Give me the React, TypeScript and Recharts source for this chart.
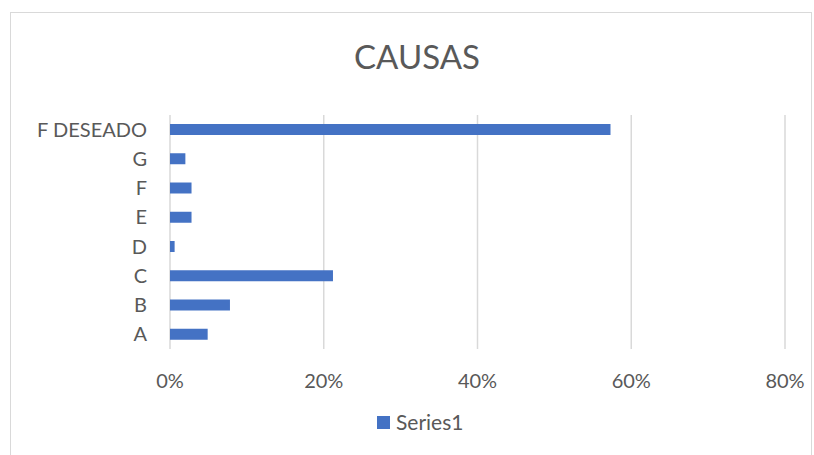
import { Bar, BarChart, CartesianGrid, XAxis, YAxis } from "recharts";

// Share of each cause (fractions of 1).
const causes = ["A", "B", "C", "D", "E", "F", "G", "F DESEADO"];
const series1 = [0.049, 0.078, 0.212, 0.006, 0.028, 0.028, 0.02, 0.573];
const xTicks = [0, 0.2, 0.4, 0.6, 0.8];

const data = causes.map((name, i) => ({ name, Series1: series1[i] }));

const TEXT = "#595959";
const BAR = "#4472C4";
const FONT = "Lato, 'Open Sans', sans-serif";

export default function App() {
  return (
    <div
      style={{
        position: "absolute",
        left: 0,
        top: 0,
        width: 814,
        height: 455,
        overflow: "hidden",
        background: "#fff",
        fontFamily: FONT,
      }}
    >
      {/* chart-area frame, runs off the bottom edge of the picture */}
      <div
        style={{
          position: "absolute",
          left: 10,
          top: 12,
          width: 800,
          height: 470,
          border: "1px solid #d9d9d9",
        }}
      />
      <div
        style={{
          position: "absolute",
          left: 0,
          top: 36,
          width: 834,
          textAlign: "center",
          fontSize: 33,
          color: TEXT,
          lineHeight: "40px",
        }}
      >
        CAUSAS
      </div>
      <div style={{ position: "absolute", left: 0, top: 0 }}>
        <BarChart
          width={814}
          height={455}
          data={data}
          layout="vertical"
          margin={{ top: 115, right: 29, bottom: 76, left: 0 }}
        >
          <CartesianGrid horizontal={false} stroke="#d9d9d9" strokeWidth={1.5} />
          <XAxis
            type="number"
            domain={[0, 0.8]}
            ticks={xTicks}
            tickFormatter={(v: number) => `${Math.round(v * 100)}%`}
            axisLine={false}
            tickLine={false}
            tickSize={0}
            tickMargin={25}
            height={30}
            tick={{ fill: TEXT, fontSize: 20, fontFamily: FONT }}
          />
          <YAxis
            type="category"
            dataKey="name"
            reversed
            width={170}
            axisLine={false}
            tickLine={false}
            tickSize={0}
            tickMargin={23}
            interval={0}
            tick={{ fill: TEXT, fontSize: 20, fontFamily: FONT }}
          />
          <Bar dataKey="Series1" fill={BAR} barSize={11} isAnimationActive={false} />
        </BarChart>
      </div>
      <div
        style={{
          position: "absolute",
          left: 377,
          top: 410,
          display: "flex",
          alignItems: "center",
          color: TEXT,
          fontSize: 21,
          lineHeight: "24px",
        }}
      >
        <span
          style={{
            display: "inline-block",
            width: 13,
            height: 13,
            background: BAR,
            marginRight: 6,
          }}
        />
        Series1
      </div>
    </div>
  );
}
